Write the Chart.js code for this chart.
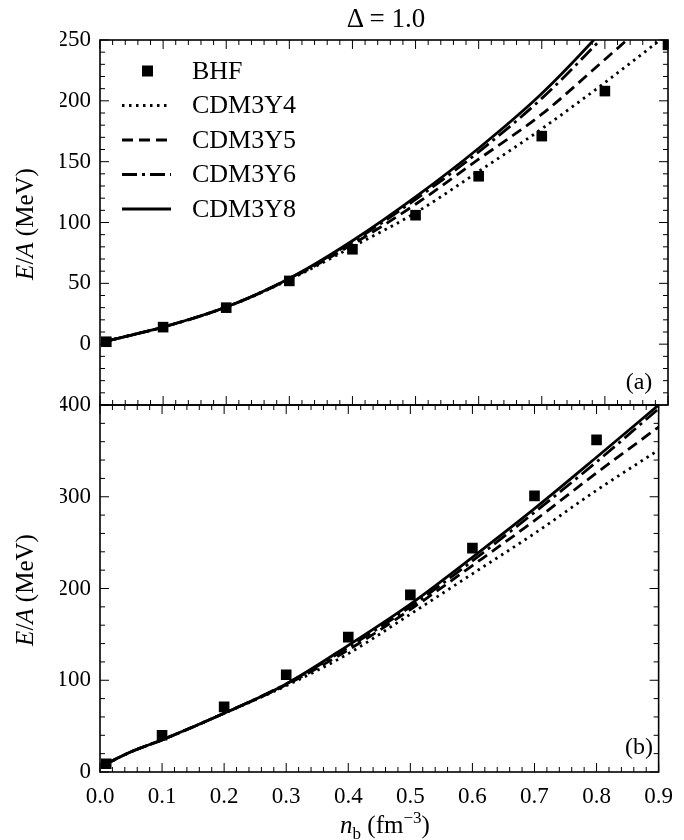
<!DOCTYPE html>
<html>
<head>
<meta charset="utf-8">
<script src="https://cdn.jsdelivr.net/npm/chart.js@4.4.1/dist/chart.umd.min.js"></script>
<style>
  body { margin: 0; background: #fff; }
  #wrap { position: relative; width: 684px; height: 840px; font-family: "Liberation Serif", "DejaVu Serif", serif; color: #000; }
  canvas { position: absolute; left: 0; top: 0; }
  .lbl { position: absolute; white-space: nowrap; font-size: 25px; line-height: 1; transform: translate(-50%, -50%); }
  .rot { transform: translate(-50%, -50%) rotate(-90deg); }
  sub, sup { font-size: 17px; line-height: 0; }
</style>
</head>
<body>
<div id="wrap">
  <canvas id="panelA" width="684" height="840"></canvas>
  <canvas id="panelB" width="684" height="840"></canvas>
  <div class="lbl" style="left:386px; top:18px; font-size:27px;">Δ = 1.0</div>
  <div class="lbl rot" style="left:24px; top:224px;"><i>E</i>/<i>A</i> (MeV)</div>
  <div class="lbl rot" style="left:24px; top:590px;"><i>E</i>/<i>A</i> (MeV)</div>
  <div class="lbl" style="left:385px; top:824px;"><i>n</i><sub>b</sub> (fm<sup>−3</sup>)</div>
  <div class="lbl" style="left:639px; top:381px; font-size:24px;">(a)</div>
  <div class="lbl" style="left:639px; top:746px; font-size:24px;">(b)</div>
</div>
<script>
"use strict";

// ------------------------------------------------------- //
// Data
// ------------------------------------------------------ //
var nbBHF = [0.01, 0.1, 0.2, 0.3, 0.4, 0.5, 0.6, 0.7, 0.8, 0.9];
var nbCurve = [0.01, 0.05, 0.1, 0.2, 0.3, 0.4, 0.5, 0.6, 0.7, 0.8, 0.9];

// panel (a)
var bhfA   = [2, 14, 30, 52, 78, 106, 138, 171, 208, 246];
var y4A    = [2.5, 7.5, 14, 30.5, 53, 80, 108, 142, 177, 215, 255];
var y5A    = [2.5, 7.5, 14, 30.5, 53.5, 82, 115, 152, 189, 234, 280];
var y6A    = [2.5, 7.5, 14, 30.5, 54, 84, 119, 158, 202, 254, 310];
var y8A    = [2.5, 7.5, 14, 30.5, 54, 85, 121, 161, 206, 260, 320];

// panel (b)
var bhfB   = [9, 40, 71, 106, 147, 193, 244, 301, 362];
var y4B    = [9, 22, 35, 64, 94, 129, 172, 216, 260, 307, 351];
var y5B    = [9, 22, 35, 64, 95, 133, 177, 225, 274, 326, 376];
var y6B    = [9, 22, 35, 64, 96, 136, 180, 230, 283, 338, 396];
var y8B    = [9, 22, 35, 64, 96, 138, 183, 234, 287, 343, 400];

var xTicks = [0, 0.1, 0.2, 0.3, 0.4, 0.5, 0.6, 0.7, 0.8, 0.9];
var yTicksA = [-50, 0, 50, 100, 150, 200, 250];
var yTicksB = [0, 100, 200, 300, 400];

var seriesNames = ["BHF", "CDM3Y4", "CDM3Y5", "CDM3Y6", "CDM3Y8"];

var FAMILY = "'Liberation Serif', 'DejaVu Serif', serif";
var FONT = { family: FAMILY, size: 23 };

function pts(xs, ys) {
    return ys.map(function (v, i) { return { x: xs[i], y: v }; });
}

function makeDatasets(bhf, y4, y5, y6, y8) {
    var line = function (label, data, dash) {
        return {
            type: "line",
            label: label,
            data: pts(nbCurve, data),
            borderColor: "#000",
            borderWidth: 2.8,
            borderDash: dash,
            pointRadius: 0,
            cubicInterpolationMode: "monotone",
            fill: false
        };
    };
    return [
        {
            type: "scatter",
            label: seriesNames[0],
            data: pts(nbBHF, bhf),
            pointStyle: "rect",
            pointRadius: 7.5,
            backgroundColor: "#000",
            borderColor: "#000",
            borderWidth: 0
        },
        line(seriesNames[1], y4, [2.5, 4.5]),
        line(seriesNames[2], y5, [11, 6]),
        line(seriesNames[3], y6, [15, 5, 3, 5]),
        line(seriesNames[4], y8, [])
    ];
}

// ------------------------------------------------------- //
// Frame with inward major/minor ticks on all sides
// ------------------------------------------------------ //
var frameTicks = {
    id: "frameTicks",
    afterDatasetsDraw: function (chart, args, opts) {
        var a = chart.chartArea, ctx = chart.ctx;
        var xs = chart.scales.x, ys = chart.scales.y;
        ctx.save();
        ctx.strokeStyle = "#000";
        ctx.lineWidth = 1;
        function seg(x1, y1, x2, y2) {
            ctx.beginPath(); ctx.moveTo(x1, y1); ctx.lineTo(x2, y2); ctx.stroke();
        }
        var i, p, len;
        var nx = Math.round((opts.xMax - opts.xMin) / opts.xMinor);
        for (i = 0; i <= nx; i++) {
            p = xs.getPixelForValue(opts.xMin + i * opts.xMinor);
            len = (i % opts.xEvery === 0) ? 9 : 5;
            seg(p, a.bottom, p, a.bottom - len);
            seg(p, a.top, p, a.top + len);
        }
        var ny = Math.round((opts.yMax - opts.yMin) / opts.yMinor);
        for (i = 0; i <= ny; i++) {
            p = ys.getPixelForValue(opts.yMin + i * opts.yMinor);
            len = (i % opts.yEvery === 0) ? 9 : 5;
            seg(a.left, p, a.left + len, p);
            seg(a.right, p, a.right - len, p);
        }
        ctx.lineWidth = 1.6;
        ctx.strokeRect(a.left, a.top, a.right - a.left, a.bottom - a.top);
        ctx.restore();
    }
};

// ------------------------------------------------------- //
// Legend drawn inside panel (a)
// ------------------------------------------------------ //
var insideLegend = {
    id: "insideLegend",
    afterDraw: function (chart, args, opts) {
        if (!opts.show) return;
        var ctx = chart.ctx;
        ctx.save();
        ctx.fillStyle = "#000";
        ctx.strokeStyle = "#000";
        ctx.font = opts.fontSize + "px " + FAMILY;
        ctx.textBaseline = "middle";
        chart.data.datasets.forEach(function (ds, i) {
            var y = opts.top + i * opts.rowGap;
            if (ds.type === "scatter") {
                ctx.fillRect(opts.x0 + 20, y - 5.5, 11, 11);
            } else {
                ctx.lineWidth = ds.borderWidth;
                ctx.setLineDash(ds.borderDash);
                ctx.beginPath();
                ctx.moveTo(opts.x0, y);
                ctx.lineTo(opts.x1, y);
                ctx.stroke();
                ctx.setLineDash([]);
            }
            ctx.fillText(ds.label, opts.textX, y + 1);
        });
        ctx.restore();
    }
};

function yFit(scale) { scale.width = 40; }
function xFit(scale) { scale.height = 40; }

// ------------------------------------------------------- //
// Panel (a)
// ------------------------------------------------------ //
var chartA = new Chart(document.getElementById("panelA"), {
    data: { datasets: makeDatasets(bhfA, y4A, y5A, y6A, y8A) },
    plugins: [frameTicks, insideLegend],
    options: {
        responsive: false,
        animation: false,
        layout: { padding: { left: 60, right: 16, top: 40, bottom: 435 } },
        plugins: {
            legend: { display: false },
            tooltip: { enabled: false },
            frameTicks: { xMin: 0, xMax: 0.9, xMinor: 0.02, xEvery: 5, yMin: -50, yMax: 250, yMinor: 10, yEvery: 5 },
            insideLegend: { show: true, x0: 122, x1: 171, textX: 192, top: 71, rowGap: 34.5, fontSize: 26 }
        },
        scales: {
            x: { type: "linear", min: 0, max: 0.9, display: false },
            y: {
                type: "linear", min: -50, max: 250,
                afterFit: yFit,
                afterBuildTicks: function (s) { s.ticks = yTicksA.map(function (v) { return { value: v }; }); },
                grid: { display: false, drawTicks: false },
                border: { display: false },
                ticks: {
                    color: "#000", font: FONT, padding: 9,
                    callback: function (v) { return v < 0 ? "" : String(v); }
                }
            }
        }
    }
});

// ------------------------------------------------------- //
// Panel (b)
// ------------------------------------------------------ //
var chartB = new Chart(document.getElementById("panelB"), {
    data: { datasets: makeDatasets(bhfB, y4B, y5B, y6B, y8B) },
    plugins: [frameTicks, insideLegend],
    options: {
        responsive: false,
        animation: false,
        layout: { padding: { left: 60, right: 16, top: 405, bottom: 28 } },
        plugins: {
            legend: { display: false },
            tooltip: { enabled: false },
            frameTicks: { xMin: 0, xMax: 0.9, xMinor: 0.02, xEvery: 5, yMin: 0, yMax: 400, yMinor: 20, yEvery: 5 },
            insideLegend: { show: false }
        },
        scales: {
            x: {
                type: "linear", min: 0, max: 0.9,
                afterFit: xFit,
                afterBuildTicks: function (s) { s.ticks = xTicks.map(function (v) { return { value: v }; }); },
                grid: { display: false, drawTicks: false },
                border: { display: false },
                ticks: {
                    color: "#000", font: FONT, padding: 11, maxRotation: 0,
                    callback: function (v) { return Number(v).toFixed(1); }
                }
            },
            y: {
                type: "linear", min: 0, max: 400,
                afterFit: yFit,
                afterBuildTicks: function (s) { s.ticks = yTicksB.map(function (v) { return { value: v }; }); },
                grid: { display: false, drawTicks: false },
                border: { display: false },
                ticks: { color: "#000", font: FONT, padding: 9 }
            }
        }
    }
});
</script>
</body>
</html>
